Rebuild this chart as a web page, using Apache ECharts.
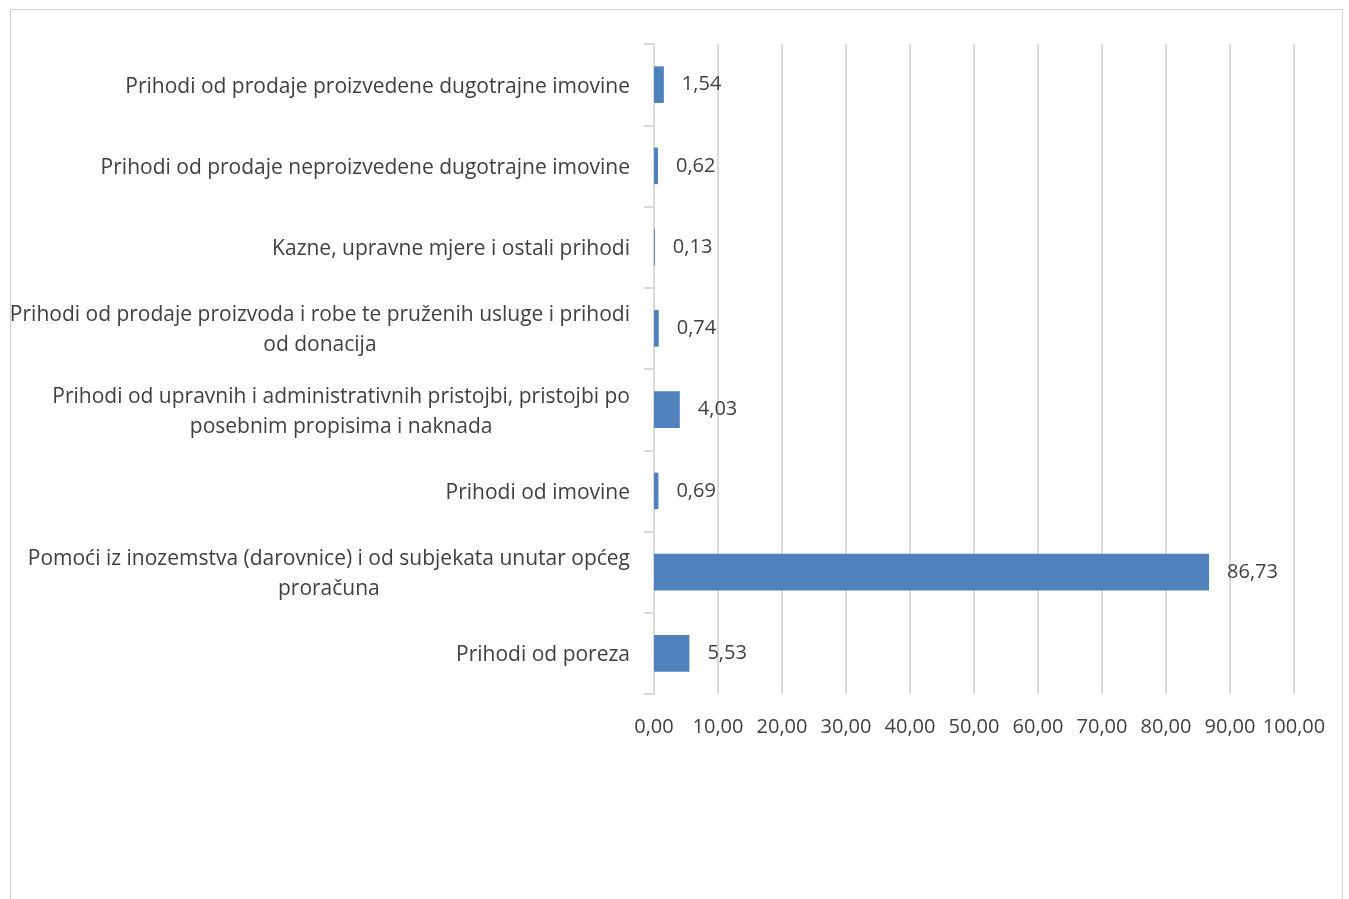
<!DOCTYPE html>
<html>
<head>
<meta charset="utf-8">
<script src="https://cdn.jsdelivr.net/npm/echarts@6/dist/echarts.min.js"></script>
<style>
html,body{margin:0;padding:0;background:#fff;}
#frame{position:absolute;left:10px;top:9px;width:1333px;height:900px;border:1px solid #d0d0d0;box-sizing:border-box;}
#chart{position:absolute;left:0;top:0;width:1349px;height:899px;}
</style>
</head>
<body>
<div id="frame"></div>
<div id="chart"></div>
<script>
// bottom to top
var categories = [
  "Prihodi od poreza",
  "Pomoći iz inozemstva (darovnice) i od subjekata unutar općeg\nproračuna",
  "Prihodi od imovine",
  "Prihodi od upravnih i administrativnih pristojbi, pristojbi po\nposebnim propisima i naknada",
  "Prihodi od prodaje proizvoda i robe te pruženih usluge i prihodi\nod donacija",
  "Kazne, upravne mjere i ostali prihodi",
  "Prihodi od prodaje neproizvedene dugotrajne imovine",
  "Prihodi od prodaje proizvedene dugotrajne imovine"
];
var values = [5.53, 86.73, 0.69, 4.03, 0.74, 0.13, 0.62, 1.54];
var axisMin = 0, axisMax = 100, axisStep = 10;

function fmt(v){ return Number(v).toFixed(2).replace('.', ','); }

var chart = echarts.init(document.getElementById('chart'));
var FONT = '"Open Sans", "Noto Sans", sans-serif';
chart.setOption({
  animation: false,
  grid: { left: 654, right: 55, top: 44, bottom: 205, containLabel: false },
  xAxis: {
    type: 'value', min: axisMin, max: axisMax, interval: axisStep,
    axisLine: { show: false }, axisTick: { show: false },
    splitLine: { show: true, lineStyle: { color: '#d9d9d9', width: 2 } },
    axisLabel: { formatter: fmt, color: '#404040', fontSize: 20, fontFamily: FONT, margin: 23 }
  },
  yAxis: {
    type: 'category', data: categories,
    axisLine: { show: true, lineStyle: { color: '#d9d9d9', width: 2 } },
    axisTick: { show: true, length: 10, lineStyle: { color: '#d9d9d9', width: 2 } },
    axisLabel: {
      color: '#404040', fontSize: 21, fontFamily: FONT, margin: 24, lineHeight: 30, padding: [4, 0, 0, 0],
      formatter: function(v){ return v.split('\n').map(function(s){ return '{c|' + s + '}'; }).join('\n'); },
      rich: { c: { align: 'center', color: '#404040', fontSize: 21, fontFamily: FONT, lineHeight: 30 } }
    }
  },
  series: [{
    type: 'bar', data: values, barCategoryGap: '55%',
    itemStyle: { color: '#4f81bd' },
    label: { show: true, position: 'right', distance: 18, formatter: function(p){ return fmt(p.value); },
      color: '#404040', fontSize: 20, fontFamily: FONT }
  }]
});
</script>
</body>
</html>
